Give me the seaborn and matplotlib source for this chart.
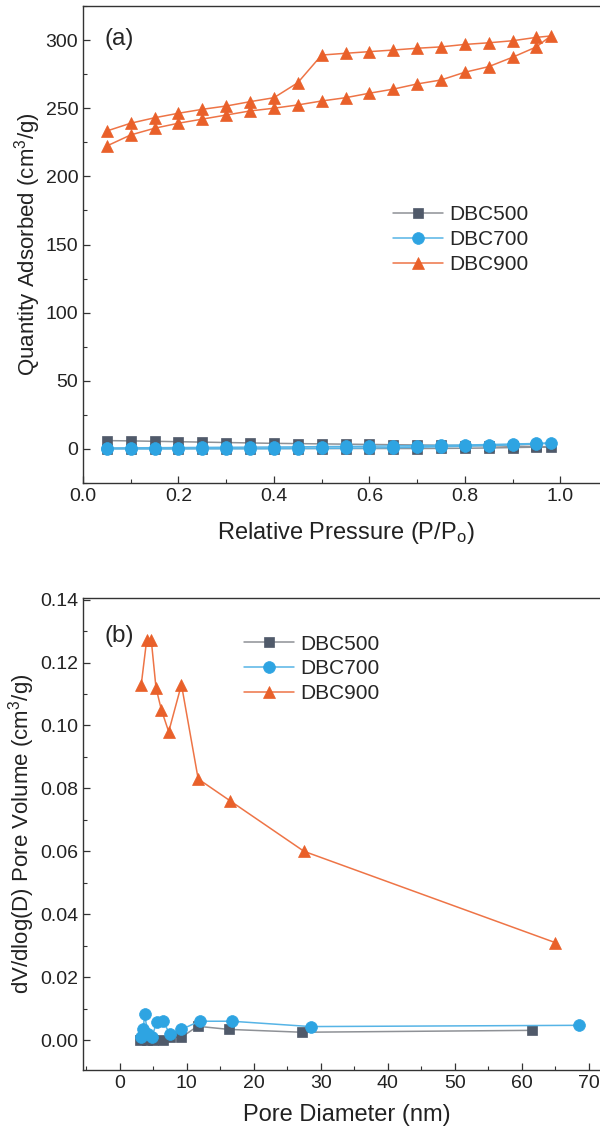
import matplotlib
matplotlib.use("Agg")
import matplotlib.pyplot as plt
import seaborn as sns
import numpy as np
import pandas as pd
from matplotlib.ticker import MultipleLocator

sns.set_theme(style="ticks")
plt.rcParams['font.family'] = ['Liberation Sans', 'DejaVu Sans']
plt.rcParams['mathtext.default'] = 'regular'

# ---------------- panel (a) data ----------------
p_ads = [0.05, 0.10, 0.15, 0.20, 0.25, 0.30, 0.35, 0.40, 0.45, 0.50,
         0.55, 0.60, 0.65, 0.70, 0.75, 0.80, 0.85, 0.90, 0.95, 0.98]
p_des = [0.95, 0.90, 0.85, 0.80, 0.75, 0.70, 0.65, 0.60, 0.55, 0.50,
         0.45, 0.40, 0.35, 0.30, 0.25, 0.20, 0.15, 0.10, 0.05]

dbc900_ads = [222.3, 230.4, 235.3, 239.0, 242.0, 245.0, 248.0, 250.0, 252.4, 255.3,
              257.7, 261.0, 264.0, 267.8, 270.7, 276.4, 280.5, 287.4, 295.0, 303.0]
dbc900_des = [302.0, 299.5, 298.0, 296.8, 295.0, 294.0, 292.7, 291.5, 290.3, 289.0,
              268.7, 257.7, 254.8, 251.6, 249.2, 246.3, 243.0, 239.0, 233.3]

dbc500_ads = [0.3, 0.3, 0.3, 0.3, 0.3, 0.3, 0.3, 0.3, 0.3, 0.3,
              0.3, 0.3, 0.3, 0.3, 0.4, 0.5, 0.7, 1.0, 1.3, 1.6]
dbc500_des = [1.8, 2.0, 2.3, 2.5, 2.7, 2.9, 3.1, 3.3, 3.5, 3.7,
              3.9, 4.1, 4.4, 4.7, 5.0, 5.3, 5.6, 5.9, 6.1]

dbc700_ads = [0.0, 0.0, 0.0, 0.0, 0.1, 0.1, 0.1, 0.2, 0.3, 0.4,
              0.5, 0.7, 0.9, 1.2, 1.6, 2.0, 2.5, 3.0, 3.7, 4.2]
dbc700_des = [4.0, 3.6, 3.2, 2.9, 2.6, 2.4, 2.2, 2.0, 1.8, 1.7,
              1.5, 1.4, 1.3, 1.2, 1.1, 1.0, 0.9, 0.8, 0.7]

# ---------------- panel (b) data ----------------
d900 = [3.2, 4.0, 4.7, 5.4, 6.2, 7.3, 9.2, 11.7, 16.5, 27.5, 65.0]
v900 = [0.113, 0.127, 0.127, 0.112, 0.105, 0.098, 0.113, 0.083, 0.076, 0.060, 0.031]

d700 = [3.2, 3.5, 3.7, 4.2, 4.8, 5.5, 6.4, 7.5, 9.2, 11.9, 16.7, 28.5, 68.5]
v700 = [0.001, 0.0034, 0.0082, 0.002, 0.001, 0.0057, 0.006, 0.002, 0.0034, 0.006, 0.006, 0.0043, 0.0047]

d500 = [3.0, 3.5, 4.0, 5.0, 6.4, 7.5, 9.2, 11.6, 16.3, 27.2, 61.5]
v500 = [0.0, 0.001, 0.0, 0.0, 0.0, 0.001, 0.0009, 0.0044, 0.0034, 0.0025, 0.0031]

series_names = ["DBC500", "DBC700", "DBC900"]
line_colors = ["#8e9196", "#56b4e6", "#ee7446"]
marker_colors = ["#505a6a", "#2ea4e2", "#e9602a"]
markers = ["s", "o", "^"]
msizes = [7.5, 8.5, 9]

fig = plt.figure(figsize=(6, 11.4), dpi=100)
ax1 = fig.add_axes([83/600, 1-483/1140, 525/600, 477/1140])
ax2 = fig.add_axes([83/600, 1-1070/1140, 527/600, 472/1140])

panel_a = [
    (p_ads + p_des, dbc500_ads + dbc500_des),
    (p_ads + p_des, dbc700_ads + dbc700_des),
    (p_ads + p_des, dbc900_ads + dbc900_des),
]
panel_b = [(d500, v500), (d700, v700), (d900, v900)]

for ax, data in ((ax1, panel_a), (ax2, panel_b)):
    for i, (xs, ys) in enumerate(data):
        df = pd.DataFrame({"x": xs, "y": ys})
        sns.lineplot(data=df, x="x", y="y", sort=False, estimator=None, ax=ax,
                     color=line_colors[i], linewidth=1.1, marker=markers[i],
                     markersize=msizes[i], markerfacecolor=marker_colors[i],
                     markeredgecolor=marker_colors[i], markeredgewidth=0.5,
                     label=series_names[i])

# axis (a)
ax1.set_xlim(0, 1.1)
ax1.set_ylim(-25, 325)
ax1.xaxis.set_major_locator(MultipleLocator(0.2))
ax1.xaxis.set_minor_locator(MultipleLocator(0.1))
ax1.yaxis.set_major_locator(MultipleLocator(50))
ax1.yaxis.set_minor_locator(MultipleLocator(25))
ax1.set_xticks([0.0, 0.2, 0.4, 0.6, 0.8, 1.0])
ax1.set_xticklabels(["0.0", "0.2", "0.4", "0.6", "0.8", "1.0"])
ax1.set_xlabel("Relative Pressure (P/P$_o$)", fontsize=17, labelpad=11)
ax1.set_ylabel("Quantity Adsorbed (cm$^3$/g)", fontsize=16, labelpad=2)
ax1.text(0.04, 0.93, "(a)", transform=ax1.transAxes, fontsize=17.5, va="center", ha="left")
ax1.legend(loc="upper left", bbox_to_anchor=(0.575, 0.6), frameon=False, fontsize=15,
           handlelength=2.4, handletextpad=0.3, labelspacing=0.28, borderaxespad=0)

# axis (b)
ax2.set_xlim(-5.5, 73.2)
ax2.set_ylim(-0.0095, 0.1405)
ax2.xaxis.set_major_locator(MultipleLocator(10))
ax2.xaxis.set_minor_locator(MultipleLocator(5))
ax2.yaxis.set_major_locator(MultipleLocator(0.02))
ax2.yaxis.set_minor_locator(MultipleLocator(0.01))
ax2.set_xticks([0, 10, 20, 30, 40, 50, 60, 70])
ax2.set_yticks([0.0, 0.02, 0.04, 0.06, 0.08, 0.10, 0.12, 0.14])
ax2.set_yticklabels(["0.00", "0.02", "0.04", "0.06", "0.08", "0.10", "0.12", "0.14"])
ax2.set_xlabel("Pore Diameter (nm)", fontsize=17, labelpad=9)
ax2.set_ylabel("dV/dlog(D) Pore Volume (cm$^3$/g)", fontsize=16, labelpad=2)
ax2.text(0.04, 0.92, "(b)", transform=ax2.transAxes, fontsize=17.5, va="center", ha="left")
ax2.legend(loc="upper left", bbox_to_anchor=(0.29, 0.94), frameon=False, fontsize=15,
           handlelength=2.4, handletextpad=0.3, labelspacing=0.28, borderaxespad=0)

for ax in (ax1, ax2):
    for s in ax.spines.values():
        s.set_color("#333333")
        s.set_linewidth(1.0)
    ax.tick_params(which="major", direction="in", length=5, width=0.9, pad=3.5,
                   labelsize=14, colors="#333333", labelcolor="#222222",
                   top=False, right=False)
    ax.tick_params(which="minor", direction="in", length=3, width=0.8,
                   colors="#333333", top=False, right=False)
    ax.xaxis.label.set_color("#222222")
    ax.yaxis.label.set_color("#222222")

fig.savefig("out.png", dpi=100)
